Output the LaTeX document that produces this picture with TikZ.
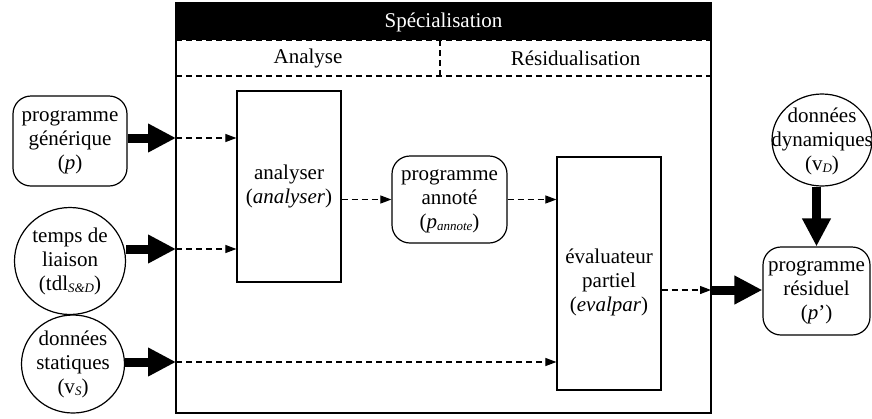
\documentclass[tikz,border=0pt]{standalone}
\usepackage{fontspec}
\setmainfont{Liberation Serif}
\usetikzlibrary{arrows.meta,shapes.geometric}
\tikzset{
  every node/.style={font=\fontsize{21}{24}\selectfont, align=center, inner sep=0pt},
  rbox/.style={draw, line width=1.2pt, rounded corners=18pt},
  ebox/.style={draw, line width=1.2pt, ellipse},
  pbox/.style={draw, line width=1.2pt},
  fat/.style={line width=9pt, -{Triangle[length=28pt,width=27pt]}, shorten >=0pt},
  thin/.style={line width=1.1pt, dash pattern=on 6pt off 4pt, -{Triangle[length=11pt,width=8pt]}},
  dline/.style={line width=1.1pt, dash pattern=on 6pt off 4pt},
}
\newcommand{\subsc}[1]{\raisebox{-0.25ex}{\fontsize{13}{13}\selectfont\itshape #1}}
\begin{document}
\begin{tikzpicture}[x=1pt,y=-1pt]
\useasboundingbox (0,0) rectangle (872,418);
% outer specialisation frame
\coordinate (oTL) at (176,3);
\coordinate (oBR) at (711,413);
\fill[black] (176,3) rectangle (711,40);
\node[text=white] (spec) at (443.5,22) {Spécialisation};
\draw[line width=1.2pt] (oTL) rectangle (oBR);
\draw[dline] (176,40) -- (711,40);
\draw[dline] (176,76) -- (711,76);
\draw[dline] (440,40) -- (440,76);
\node (ana) at (308,58) {Analyse};
\node (res) at (575.5,58) {Résidualisation};

% inner boxes
\node[pbox, minimum width=104pt, minimum height=191pt] (analyser) at (289,186.5) {analyser\\(\textit{analyser})};
\node[rbox, minimum width=115pt, minimum height=87pt] (annote) at (449.5,199.5) {};
\node (annotetxt) at (449.5,201) {programme\\annoté\\(\textit{p}\subsc{annote})};
\node[pbox, minimum width=104pt, minimum height=233pt] (eval) at (609,273.5) {};
\node (evaltxt) at (609,282) {évaluateur\\partiel\\(\textit{evalpar})};

% left inputs
\node[rbox, minimum width=114pt, minimum height=90pt] (prog) at (70,141) {};
\node (progtxt) at (70,142) {programme\\générique\\(\textit{p})};
\node[ebox, minimum width=111pt, minimum height=107pt] (tdl) at (70,261) {};
\node (tdltxt) at (70,261) {temps de\\liaison\\(tdl\subsc{S\&D})};
\node[ebox, minimum width=103pt, minimum height=98pt] (stat) at (73,364) {};
\node (stattxt) at (73,364) {données\\statiques\\(v\subsc{S})};

% right side
\node[ebox, minimum width=100pt, minimum height=92pt] (dyn) at (822,140) {};
\node (dyntxt) at (822,141) {données\\dynamiques\\(v\subsc{D})};
\node[rbox, minimum width=107pt, minimum height=88pt] (resid) at (816.5,291) {};
\node (residtxt) at (816.5,292) {programme\\résiduel\\(\textit{p}’)};

% connection points on frame
\coordinate (in1) at (176,138);
\coordinate (in2) at (176,249);
\coordinate (in3) at (176,362);
\coordinate (out) at (711,290);

% fat arrows
\draw[fat] (prog.east |- in1) -- (in1);
\draw[fat] (tdl.east |- in2) -- (in2);
\draw[fat] (stat.east |- in3) -- (in3);
\draw[fat] (out) -- (resid.west |- out);
\draw[fat] (dyn.south -| resid.north) -- (resid.north);

% thin dashed arrows
\draw[thin] (in1) -- (analyser.west |- in1);
\draw[thin] (in2) -- (analyser.west |- in2);
\draw[thin] (in3) -- (eval.west |- in3);
\draw[thin] (analyser.east |- annote.west) -- (annote.west);
\draw[thin] (annote.east) -- (eval.west |- annote.east);
\draw[thin] (eval.east |- out) -- (out);
\end{tikzpicture}
\end{document}
